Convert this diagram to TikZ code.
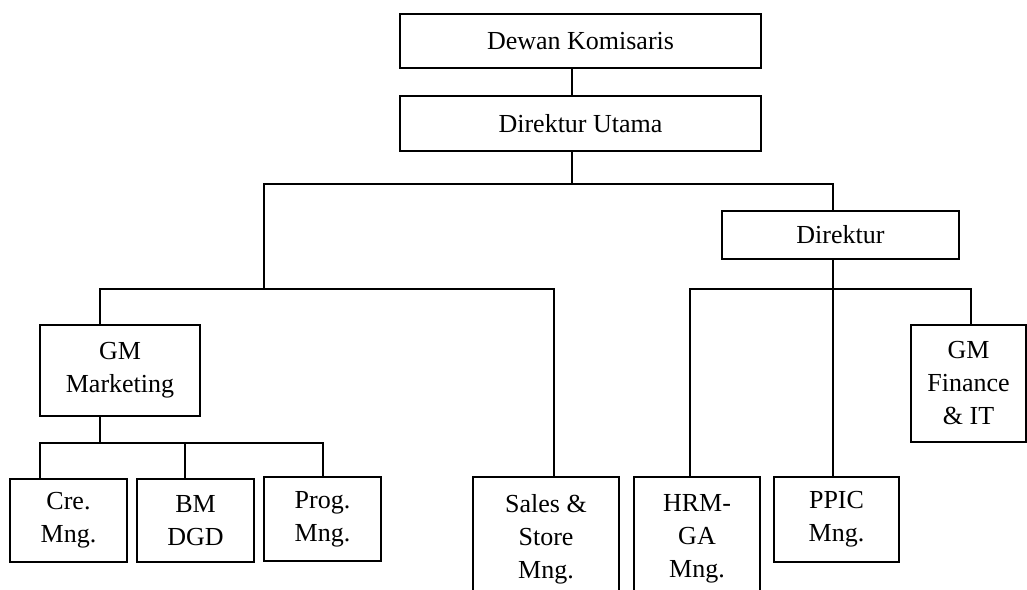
\documentclass[tikz,border=0pt]{standalone}
\usepackage{fontspec}
\setmainfont{Liberation Serif}
\begin{document}
\begin{tikzpicture}[x=0.5pt,y=-0.5pt,
  box/.style={draw=black,line width=0.9pt,inner sep=0pt,align=center,
    font=\fontsize{13pt}{16.5pt}\selectfont},
  conn/.style={draw=black,line width=0.75pt}]
\clip (0,0) rectangle (1027,589);
\fill[white] (0,0) rectangle (1027,589);
% boxes
\node[box,minimum width=180.5pt,minimum height=27pt] (dk) at (580.5,41) {Dewan Komisaris};
\node[box,minimum width=180.5pt,minimum height=27.5pt] (du) at (580.5,123.5) {Direktur Utama};
\node[box,minimum width=118.5pt,minimum height=24pt] (dir) at (840.5,235) {Direktur};
\node[box,minimum width=80pt,minimum height=45.5pt] (gmm) at (120,370.5) {GM\\Marketing};
\node[box,minimum width=58.5pt,minimum height=41.5pt] (cre) at (68.5,520.5) {Cre.\\Mng.};
\node[box,minimum width=58.5pt,minimum height=41.5pt] (bm) at (195.5,520.5) {BM\\DGD};
\node[box,minimum width=58.5pt,minimum height=42pt] (prog) at (322.5,519) {Prog.\\Mng.};
\node[box,minimum width=73pt,minimum height=62pt] (sales) at (546,539) {Sales \&\\Store\\Mng.};
\node[box,minimum width=63pt,minimum height=62pt] (hrm) at (697,539) {HRM-\\GA\\Mng.};
\node[box,minimum width=62.5pt,minimum height=42.5pt] (ppic) at (836.5,519.5) {PPIC\\Mng.};
\node[box,minimum width=57.5pt,minimum height=58.5pt] (gmf) at (968.5,383.5) {GM\\Finance\\\& IT};
% junctions
\coordinate (j1) at (572,184);
\coordinate (jL) at (264,184);
\coordinate (jR) at (833,184);
\coordinate (jL2) at (264,289);
\coordinate (jM) at (100,289);
\coordinate (jS) at (554,289);
\coordinate (jH) at (690,289);
\coordinate (jF) at (971,289);
\coordinate (jG) at (100,443);
\coordinate (jC) at (40,443);
\coordinate (jB) at (185,443);
\coordinate (jP) at (323,443);
% connectors
\draw[conn] (dk.south -| j1) -- (du.north -| j1);
\draw[conn] (du.south -| j1) -- (j1);
\draw[conn] (jL2) -- (jL) -- (jR) -- (dir.north -| jR);
\draw[conn] (gmm.north -| jM) -- (jM) -- (jS) -- (sales.north -| jS);
\draw[conn] (dir.south -| jR) -- (ppic.north -| jR);
\draw[conn] (hrm.north -| jH) -- (jH) -- (jF) -- (gmf.north -| jF);
\draw[conn] (gmm.south -| jG) -- (jG);
\draw[conn] (cre.north -| jC) -- (jC) -- (jP) -- (prog.north -| jP);
\draw[conn] (jB) -- (bm.north -| jB);
\end{tikzpicture}
\end{document}
